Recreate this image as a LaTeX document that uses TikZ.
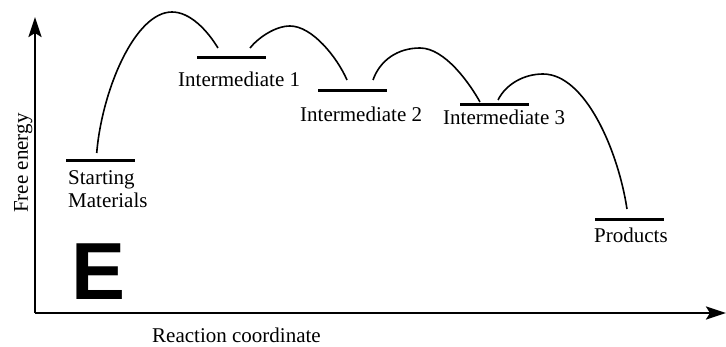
\documentclass[tikz,border=0pt]{standalone}
\usepackage{fontspec}
\setmainfont{Liberation Serif}
\newfontfamily\bigsans{Liberation Sans}
\usetikzlibrary{arrows.meta}

\begin{document}
\begin{tikzpicture}[x=1pt, y=1pt,
axis_style/.style={draw=black, line width=2.5pt, -{Stealth[length=20pt, width=13pt, inset=4pt]}},
level_style/.style={draw=black, line width=3pt},
curve_style/.style={draw=black, line width=1.6pt},
label_style/.style={anchor=base west, inner sep=0pt, font=\fontsize{21}{23}\selectfont, align=left}]
\useasboundingbox (0,0) rectangle (726,346);

% axes
\coordinate (origin) at (35,33);
\coordinate (ytop) at (35,329);
\coordinate (xend) at (726,33);
\draw[axis_style] (origin) -- (ytop);
\draw[axis_style] (origin) -- (xend);

% energy levels
\coordinate (sm_l) at (66,185);  \coordinate (sm_r) at (135,185);
\coordinate (i1_l) at (197,288); \coordinate (i1_r) at (266,288);
\coordinate (i2_l) at (318,255); \coordinate (i2_r) at (387,255);
\coordinate (i3_l) at (460,241); \coordinate (i3_r) at (529,241);
\coordinate (p_l) at (595,127);  \coordinate (p_r) at (664,127);
\draw[level_style] (sm_l) -- (sm_r);
\draw[level_style] (i1_l) -- (i1_r);
\draw[level_style] (i2_l) -- (i2_r);
\draw[level_style] (i3_l) -- (i3_r);
\draw[level_style] (p_l) -- (p_r);

% barriers
\coordinate (a0) at (96.7,193); \coordinate (a1) at (172,334); \coordinate (a2) at (218,298);
\coordinate (b0) at (250,298);  \coordinate (b1) at (290,320); \coordinate (b2) at (347,266);
\coordinate (c0) at (373,266);  \coordinate (c1) at (420,298); \coordinate (c2) at (480,244);
\coordinate (d0) at (498,246);  \coordinate (d1) at (543,272); \coordinate (d2) at (627,137);
\draw[curve_style] (a0) .. controls +(5.3,63) and +(-37,0) .. (a1)
                        .. controls +(18,0) and +(-11,18) .. (a2);
\draw[curve_style] (b0) .. controls +(8,10) and +(-15,0) .. (b1)
                        .. controls +(22,0) and +(-10,23) .. (b2);
\draw[curve_style] (c0) .. controls +(7,20) and +(-22,0) .. (c1)
                        .. controls +(25,0) and +(-10,18) .. (c2);
\draw[curve_style] (d0) .. controls +(8,16) and +(-19,0) .. (d1)
                        .. controls +(42,0) and +(-9,59) .. (d2);

% labels
\node[label_style, anchor=north west] (sm) at (68,176) {Starting\\Materials};
\node[label_style] (i1) at (178,259) {Intermediate 1};
\node[label_style] (i2) at (300,224) {Intermediate 2};
\node[label_style] (i3) at (443,221) {Intermediate 3};
\node[label_style] (p) at (594,104) {Products};
\node[label_style] (xlab) at (152,4) {Reaction coordinate};
\node[label_style, rotate=90] (ylab) at (28,133) {Free energy};
\node[anchor=base west, inner sep=0pt, font=\bigsans\bfseries\fontsize{81}{81}\selectfont] (tag) at (71,47) {E};

\end{tikzpicture}
\end{document}
